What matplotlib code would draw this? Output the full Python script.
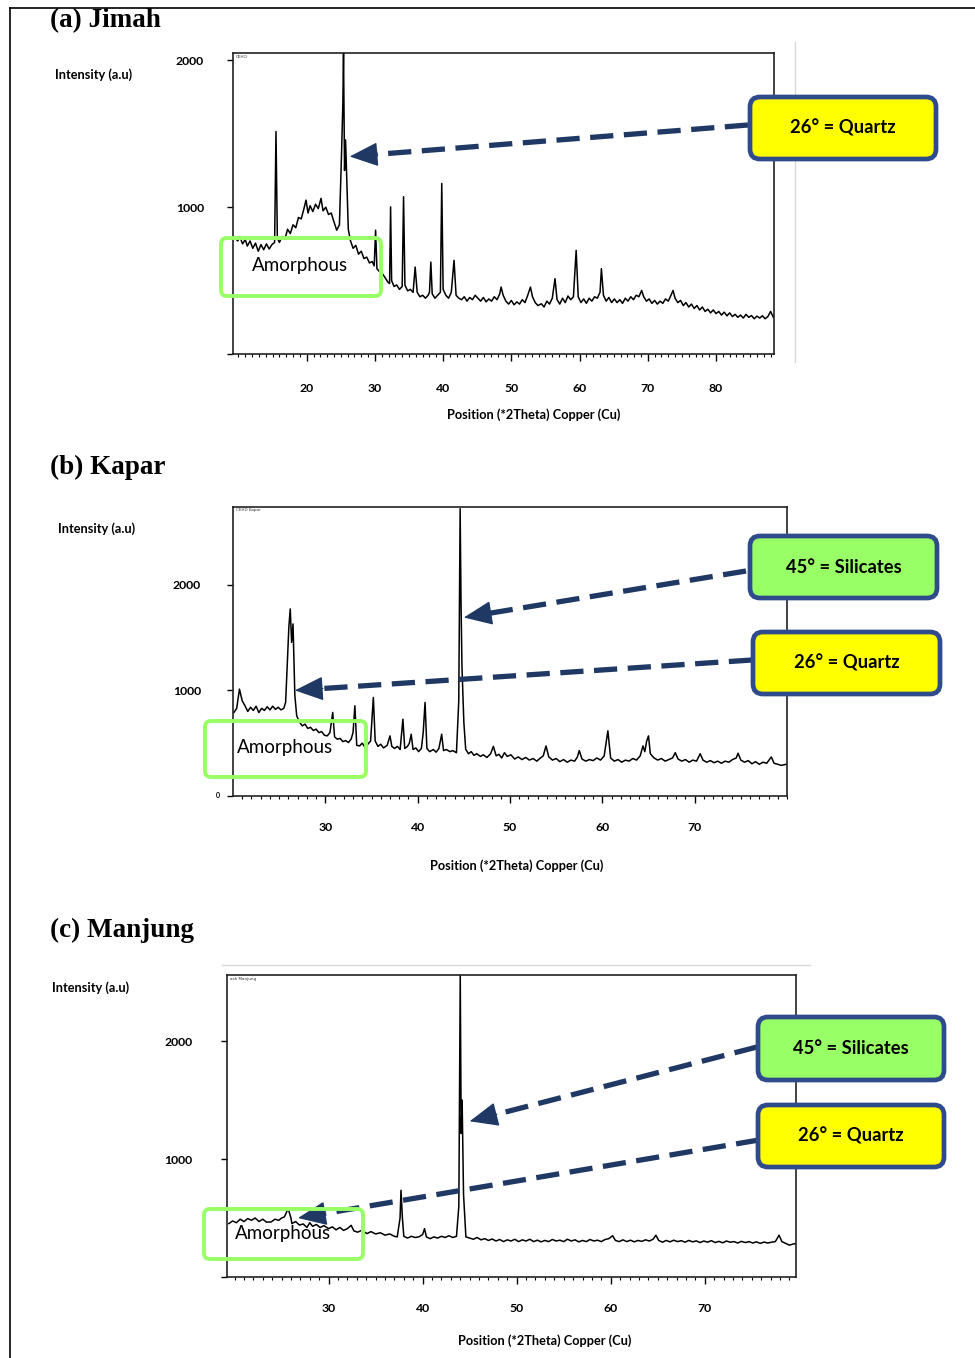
import matplotlib
matplotlib.use('Agg')
import matplotlib.pyplot as plt
import numpy as np
from matplotlib.patches import FancyBboxPatch
from matplotlib.lines import Line2D

W, H = 975, 1358
NAVY = '#1f3864'
EDGE = '#2f4b8c'
YELLOW = '#ffff00'
LIME = '#99ff66'
BOXGREEN = '#99ff66'

# (a) Jimah
xa = [9.5, 9.9, 10.2, 10.6, 11.0, 11.3, 11.7, 12.1, 12.5, 12.9, 13.3, 13.7, 14.1, 14.5, 14.9, 15.3, 15.5, 15.7,
      16.0, 16.4, 16.8, 17.2, 17.6, 18.0, 18.4, 18.8, 19.2, 19.6, 19.9, 20.2, 20.5, 20.9, 21.3, 21.7, 22.1, 22.4,
      22.8, 23.2, 23.6, 24.0, 24.4, 24.8, 25.1, 25.3, 25.4, 25.55, 25.7, 25.9, 26.1, 26.4, 26.8, 27.2, 27.6, 28.0,
      28.4, 28.8, 29.2, 29.6, 29.9, 30.1, 30.3, 30.7, 31.1, 31.5, 31.9, 32.15, 32.3, 32.45, 32.8, 33.2, 33.6, 34.0,
      34.2, 34.4, 34.8, 35.2, 35.6, 35.9, 36.2, 36.6, 37.0, 37.4, 37.8, 38.0, 38.2, 38.4, 38.8, 39.2, 39.6, 39.8,
      40.0, 40.4, 40.8, 41.2, 41.6, 41.9, 42.3, 42.7, 43.1, 43.5, 43.9, 44.3, 44.7, 45.1, 45.5, 45.9, 46.3, 46.7,
      47.1, 47.5, 47.9, 48.3, 48.5, 48.8, 49.2, 49.6, 50.0, 50.4, 50.8, 51.2, 51.6, 52.0, 52.4, 52.8, 53.1, 53.5,
      53.9, 54.4, 54.8, 55.2, 55.6, 56.0, 56.4, 56.7, 57.1, 57.5, 57.9, 58.3, 58.7, 59.1, 59.5, 59.8, 60.2, 60.6,
      61.0, 61.4, 61.8, 62.2, 62.6, 63.0, 63.2, 63.5, 63.9, 64.3, 64.7, 65.1, 65.5, 65.9, 66.3, 66.7, 67.1, 67.5,
      67.9, 68.3, 68.7, 69.1, 69.4, 69.8, 70.2, 70.6, 71.0, 71.4, 71.8, 72.2, 72.6, 73.0, 73.4, 73.7, 74.0, 74.4,
      74.8, 75.2, 75.6, 76.0, 76.4, 76.8, 77.2, 77.6, 78.0, 78.4, 78.8, 79.2, 79.6, 80.0, 80.4, 80.8, 81.2, 81.6,
      82.0, 82.4, 82.8, 83.2, 83.6, 84.0, 84.4, 84.8, 85.2, 85.6, 86.0, 86.4, 86.8, 87.2, 87.6, 88.0, 88.4]
ya = [790, 770, 800, 750, 780, 735, 770, 720, 755, 700, 745, 710, 750, 715, 745, 760, 1515, 790,
      760, 800, 780, 850, 820, 880, 860, 930, 920, 990, 1048, 960, 1010, 970, 1020, 990, 1060, 975,
      1000, 950, 960, 900, 843, 880, 1350, 1700, 2050, 1250, 1458, 1150, 850, 774, 720, 740, 680, 700,
      650, 660, 620, 630, 600, 843, 580, 560, 547, 520, 490, 480, 1002, 500, 460, 470, 440, 460,
      1071, 470, 430, 440, 420, 592, 420, 390, 400, 380, 400, 420, 626, 410, 380, 400, 420, 1162,
      440, 400, 380, 420, 638, 400, 380, 370, 390, 360, 385, 370, 400, 380, 360, 385, 355, 375,
      360, 390, 370, 410, 456, 400, 360, 340, 365, 335, 355, 340, 370, 350, 400, 456, 390, 350,
      330, 342, 320, 360, 340, 380, 513, 370, 340, 380, 350, 395, 370, 390, 706, 390, 350, 375,
      345, 380, 360, 390, 380, 420, 581, 400, 360, 385, 350, 375, 350, 370, 345, 380, 360, 390,
      370, 400, 390, 433, 390, 360, 375, 345, 365, 340, 360, 345, 375, 360, 400, 433, 380, 350,
      365, 330, 350, 320, 340, 310, 330, 300, 320, 290, 305, 280, 300, 275, 290, 265, 285, 260,
      280, 255, 270, 250, 265, 245, 270, 250, 262, 240, 258, 245, 260, 240, 255, 290, 250]

# (b) Kapar
xb = [20.1, 20.4, 20.7, 21.0, 21.3, 21.6, 21.9, 22.2, 22.5, 22.8, 23.1, 23.4, 23.7, 24.0, 24.3, 24.6, 24.9, 25.2,
      25.5, 25.7, 25.9, 26.05, 26.2, 26.35, 26.5, 26.7, 26.9, 27.2, 27.5, 27.8, 28.1, 28.4, 28.7, 29.0, 29.3,
      29.6, 29.9, 30.2, 30.5, 30.8, 31.0, 31.3, 31.6, 31.9, 32.2, 32.5, 32.8, 33.0, 33.2, 33.4, 33.7, 34.0,
      34.3, 34.6, 34.9, 35.2, 35.4, 35.7, 36.0, 36.3, 36.7, 37.0, 37.2, 37.5, 37.8, 38.1, 38.4, 38.6, 38.9,
      39.1, 39.3, 39.5, 39.8, 40.1, 40.4, 40.6, 40.8, 41.0, 41.3, 41.7, 42.0, 42.3, 42.6, 42.8, 43.1, 43.5,
      43.8, 44.2, 44.45, 44.6, 44.7, 44.8, 45.0, 45.2, 45.5, 45.8, 46.1, 46.4, 46.8, 47.1, 47.5, 47.9, 48.2,
      48.5, 48.8, 49.1, 49.4, 49.7, 50.1, 50.5, 50.9, 51.3, 51.7, 52.1, 52.5, 52.9, 53.3, 53.6, 53.9, 54.2,
      54.6, 55.0, 55.4, 55.8, 56.2, 56.6, 57.0, 57.3, 57.5, 57.8, 58.2, 58.6, 59.0, 59.4, 59.8, 60.2, 60.6,
      60.9, 61.3, 61.7, 62.1, 62.5, 62.9, 63.3, 63.7, 64.1, 64.4, 64.6, 64.8, 65.0, 65.2, 65.6, 66.0, 66.4,
      66.8, 67.2, 67.6, 67.9, 68.2, 68.6, 69.0, 69.4, 69.8, 70.2, 70.6, 70.9, 71.3, 71.7, 72.1, 72.5, 72.9,
      73.3, 73.7, 74.1, 74.5, 74.7, 75.0, 75.4, 75.8, 76.2, 76.6, 77.0, 77.4, 77.8, 78.3, 78.6, 79.0, 79.4, 79.9]
yb = [791, 830, 1012, 900, 854, 800, 840, 810, 850, 790, 830, 810, 845, 815, 850, 820, 840, 815,
      830, 886, 1300, 1600, 1771, 1455, 1629, 949, 759, 700, 664, 680, 640, 650, 620, 633, 600,
      610, 575, 569, 600, 791, 560, 538, 545, 515, 525, 506, 540, 600, 854, 480, 474, 500,
      460, 490, 520, 933, 520, 470, 490, 455, 480, 569, 470, 450, 470, 440, 727, 450, 470,
      500, 585, 440, 455, 420, 450, 600, 886, 450, 420, 440, 415, 450, 585, 430, 440, 420,
      430, 410, 900, 2720, 1800, 1218, 700, 443, 400, 420, 385, 400, 375, 390, 365, 400, 470,
      380, 395, 360, 410, 375, 390, 350, 370, 345, 365, 340, 355, 330, 360, 380, 474, 370,
      340, 355, 325, 345, 320, 340, 330, 370, 430, 350, 330, 345, 335, 360, 340, 380, 617,
      360, 330, 345, 320, 340, 330, 355, 340, 380, 474, 420, 520, 569, 400, 360, 340, 355,
      330, 345, 360, 410, 350, 330, 345, 320, 340, 330, 400, 340, 320, 335, 315, 330, 310,
      330, 320, 345, 360, 405, 340, 320, 335, 305, 325, 300, 320, 310, 370, 310, 300, 290, 300]

# (c) Manjung
xc = [19.4, 19.8, 20.2, 20.6, 21.0, 21.4, 21.8, 22.2, 22.6, 23.0, 23.4, 23.9, 24.3, 24.7, 25.0, 25.3, 25.7, 26.0,
      26.1, 26.5, 26.9, 27.3, 27.7, 28.0, 28.3, 28.7, 29.1, 29.5, 30.0, 30.4, 30.8, 31.2, 31.6, 32.0, 32.4,
      32.7, 33.1, 33.5, 34.1, 34.5, 35.0, 35.5, 36.0, 36.5, 37.0, 37.3, 37.6, 37.7, 37.85, 38.0, 38.4, 38.8,
      39.2, 39.6, 40.0, 40.2, 40.4, 40.8, 41.2, 41.6, 42.0, 42.4, 42.8, 43.2, 43.6, 43.85, 44.0, 44.1, 44.2,
      44.35, 44.6, 45.0, 45.4, 45.8, 46.2, 46.6, 47.0, 47.4, 47.8, 48.2, 48.6, 49.0, 49.4, 49.8, 50.2, 50.6,
      51.0, 51.4, 51.8, 52.2, 52.6, 53.0, 53.4, 53.8, 54.2, 54.6, 55.0, 55.4, 55.8, 56.2, 56.6, 57.0, 57.4,
      57.8, 58.2, 58.6, 59.0, 59.4, 59.8, 60.2, 60.5, 60.9, 61.3, 61.7, 62.1, 62.5, 62.9, 63.3, 63.7, 64.1,
      64.5, 64.8, 65.1, 65.5, 65.9, 66.3, 66.7, 67.1, 67.5, 67.9, 68.3, 68.7, 69.1, 69.5, 69.9, 70.3, 70.7,
      71.1, 71.5, 71.9, 72.3, 72.7, 73.1, 73.5, 73.9, 74.3, 74.7, 75.1, 75.5, 75.9, 76.3, 76.7, 77.1, 77.5,
      77.9, 78.2, 78.6, 79.0, 79.4, 79.7]
yc = [453, 475, 460, 490, 470, 495, 481, 500, 470, 490, 465, 467, 490, 480, 500, 509, 580, 500,
      453, 470, 440, 450, 420, 460, 430, 445, 420, 435, 410, 425, 400, 420, 395, 410, 438,
      390, 380, 395, 368, 385, 365, 375, 355, 365, 345, 340, 500, 735, 500, 345, 330, 345,
      335, 340, 360, 410, 340, 325, 340, 330, 345, 335, 350, 335, 345, 600, 2560, 1216, 1500,
      700, 340, 330, 320, 335, 315, 325, 310, 322, 305, 318, 300, 315, 305, 320, 300, 315,
      305, 320, 300, 312, 298, 310, 300, 318, 305, 312, 300, 320, 305, 315, 298, 310, 300,
      318, 305, 312, 300, 318, 325, 350, 310, 300, 315, 300, 312, 298, 310, 302, 315, 305,
      320, 354, 310, 295, 310, 298, 312, 300, 308, 295, 310, 298, 306, 292, 305, 295, 308,
      292, 302, 290, 305, 295, 300, 288, 302, 292, 300, 288, 298, 285, 296, 288, 295, 300,
      354, 300, 285, 270, 280, 283]

titles = ['(a) Jimah', '(b) Kapar', '(c) Manjung']
x_label = 'Position (*2Theta) Copper (Cu)'
y_label = 'Intensity (a.u)'


def fig_xy(px, py):
    return px / W, 1 - py / H


def inch(px, py):
    return px / 100, (H - py) / 100


fig = plt.figure(figsize=(W / 100, H / 100), dpi=100)
fig.patch.set_facecolor('white')

SANS = ['Lato', 'DejaVu Sans']


def add_panel(frame, xs, ys, xlim, ylim, xticks, yticks, xpad, ypad, tag):
    l, t, r, b = frame
    ax = fig.add_axes([l / W, 1 - b / H, (r - l) / W, (b - t) / H])
    ax.plot(xs, ys, color='black', lw=1.1)
    ax.set_xlim(*xlim)
    ax.set_ylim(*ylim)
    ax.set_xticks(xticks)
    ax.set_xticks([v for v in range(int(xlim[0]) + 1, int(xlim[1]) + 1)], minor=True)
    ax.set_yticks(yticks)
    ax.set_yticklabels([str(v) if v else '' for v in yticks])
    ax.tick_params(axis='x', which='major', direction='out', length=5, width=1, pad=xpad)
    ax.tick_params(axis='x', which='minor', direction='out', length=2.5, width=0.8)
    ax.tick_params(axis='y', which='major', direction='out', length=4, width=1, pad=ypad)
    for lab in ax.get_xticklabels() + ax.get_yticklabels():
        lab.set_fontfamily(SANS)
        lab.set_fontweight('bold')
        lab.set_fontsize(8.8)
    for sp in ax.spines.values():
        sp.set_linewidth(1.2)
        sp.set_color('#222222')
    ax.text(0.005, 0.995, tag, transform=ax.transAxes, fontsize=3, va='top', ha='left', color='#333333')
    return ax


def label_box(px0, py0, px1, py1, face, text):
    x0, y1 = inch(px0, py0)
    x1, y0 = inch(px1, py1)
    box = FancyBboxPatch((x0, y0), x1 - x0, y1 - y0, boxstyle='round,pad=0,rounding_size=0.1',
                         transform=fig.dpi_scale_trans, facecolor=face, edgecolor=EDGE, lw=3.4, zorder=5)
    fig.add_artist(box)
    fig.text(*fig_xy((px0 + px1) / 2, (py0 + py1) / 2), text, ha='center', va='center',
             fontsize=13.2, fontweight='bold', family=SANS, zorder=6)


def amorphous_box(px0, py0, px1, py1, tx, ty):
    x0, y1 = inch(px0, py0)
    x1, y0 = inch(px1, py1)
    box = FancyBboxPatch((x0, y0), x1 - x0, y1 - y0, boxstyle='round,pad=0,rounding_size=0.06',
                         transform=fig.dpi_scale_trans, facecolor='none', edgecolor=LIME, lw=2.8, zorder=5)
    fig.add_artist(box)
    fig.text(*fig_xy(tx, ty), 'Amorphous', ha='center', va='center', fontsize=13.5, family=SANS, zorder=6)


def arrow(ax, tip, tail_px, head=26):
    # dashed shaft from the label box to the base of a solid head that points at the peak
    tip_disp = ax.transData.transform(tip)
    tail_disp = np.array([tail_px[0], H - tail_px[1]], dtype=float)
    u = (tail_disp - tip_disp) / np.hypot(*(tail_disp - tip_disp))
    base = tip_disp + u * head
    ax.annotate('', xy=base, xycoords='figure pixels', xytext=tail_disp, textcoords='figure pixels',
                arrowprops=dict(arrowstyle='-', lw=3.8, ls=(0, (4.4, 2.0)), color=NAVY,
                                shrinkA=0, shrinkB=0, capstyle='butt'),
                annotation_clip=False, zorder=4)
    ax.annotate('', xy=tip, xycoords='data', xytext=base + u * 2, textcoords='figure pixels',
                arrowprops=dict(arrowstyle='-|>,head_length=1.3,head_width=0.55', mutation_scale=14,
                                lw=1, color=NAVY, shrinkA=0, shrinkB=0),
                annotation_clip=False, zorder=4)


# outer frame and faint guide lines
fig.add_artist(Line2D([10 / W, 10 / W], [0, 1 - 8 / H], transform=fig.transFigure, color='black', lw=1.2))
fig.add_artist(Line2D([10 / W, 1], [1 - 8 / H, 1 - 8 / H], transform=fig.transFigure, color='black', lw=1.2))
fig.add_artist(Line2D([795 / W, 795 / W], [1 - 362 / H, 1 - 42 / H], transform=fig.transFigure,
                      color='#d9d9d9', lw=1))
fig.add_artist(Line2D([222 / W, 810 / W], [1 - 965 / H, 1 - 965 / H], transform=fig.transFigure,
                      color='#d9d9d9', lw=1))

# panel (a)
ax_a = add_panel((233, 53, 774, 354), xa, ya, (9.2, 88.5), (0, 2050), [20, 30, 40, 50, 60, 70, 80],
                 [0, 1000, 2000], 16, 17, 'CEHO')
# panel (b)
ax_b = add_panel((233, 507, 787, 796), xb, yb, (20, 80), (0, 2736), [30, 40, 50, 60, 70],
                 [0, 1000, 2000], 14, 19, 'CEHD Kapar')
ax_b.text(-0.028, 0, '0', transform=ax_b.get_yaxis_transform(), fontsize=5, ha='center', va='center',
          fontweight='bold', family=SANS)
# panel (c)
ax_c = add_panel((227, 975, 796, 1277), xc, yc, (19.2, 79.7), (0, 2560), [30, 40, 50, 60, 70],
                 [0, 1000, 2000], 14, 21, 'ash Manjung')

for title, py in zip(titles, [21, 467, 930]):
    fig.text(*fig_xy(50, py), title, ha='left', va='center', fontsize=19.5, fontweight='bold',
             family='Liberation Serif')

for px, py in [(94, 75), (97, 529), (91, 988)]:
    fig.text(*fig_xy(px, py), y_label, ha='center', va='center', fontsize=9.2, fontweight='bold', family=SANS)

for px, py in [(534, 415), (517, 866), (545, 1341)]:
    fig.text(*fig_xy(px, py), x_label, ha='center', va='center', fontsize=9.2, fontweight='bold', family=SANS)

# annotations
arrow(ax_a, (26.3, 1345), (748, 125))
label_box(750, 97, 936, 159, YELLOW, '26° = Quartz')
amorphous_box(221, 238, 381, 296, 300, 266)

arrow(ax_b, (45.0, 1690), (746, 571))
arrow(ax_b, (26.7, 1000), (752, 660))
label_box(750, 536, 937, 598, BOXGREEN, '45° = Silicates')
label_box(753, 632, 940, 694, YELLOW, '26° = Quartz')
amorphous_box(205, 721, 366, 777, 285, 747)

arrow(ax_c, (45.0, 1320), (757, 1047))
arrow(ax_c, (26.75, 500), (759, 1140))
label_box(758, 1017, 944, 1080, BOXGREEN, '45° = Silicates')
label_box(758, 1105, 944, 1167, YELLOW, '26° = Quartz')
amorphous_box(204, 1209, 363, 1259, 283, 1234)

fig.savefig('out.png', dpi=100, facecolor='white')
